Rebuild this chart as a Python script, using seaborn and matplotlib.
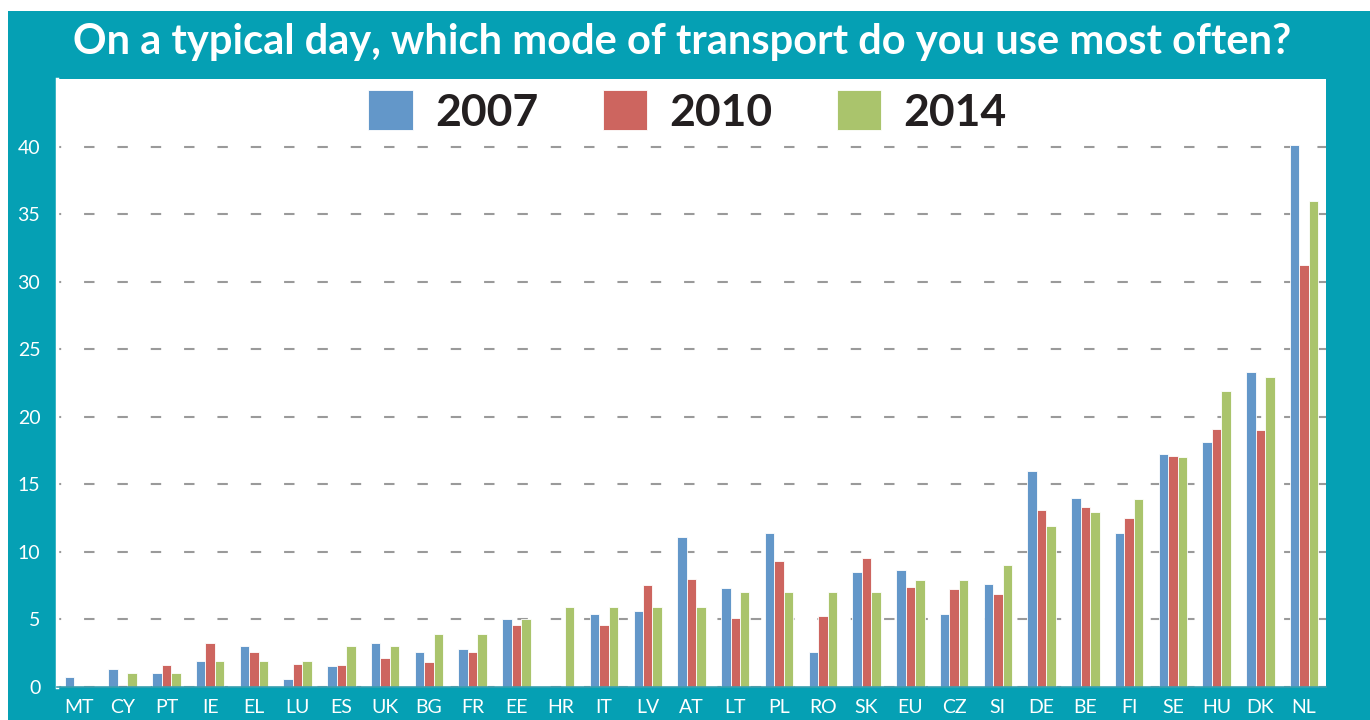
import numpy as np
import pandas as pd
import seaborn as sns
import matplotlib.pyplot as plt
from matplotlib.patches import Rectangle
from matplotlib.ticker import FixedLocator

countries = ['MT', 'CY', 'PT', 'IE', 'EL', 'LU', 'ES', 'UK', 'BG', 'FR', 'EE', 'HR', 'IT', 'LV', 'AT',
             'LT', 'PL', 'RO', 'SK', 'EU', 'CZ', 'SI', 'DE', 'BE', 'FI', 'SE', 'HU', 'DK', 'NL']
years = ['2007', '2010', '2014']
v2007 = [0.7, 1.3, 1.0, 1.9, 3.0, 0.55, 1.5, 3.2, 2.55, 2.8, 5.0, 0, 5.4, 5.6, 11.1,
         7.3, 11.4, 2.55, 8.5, 8.65, 5.4, 7.6, 16.0, 14.0, 11.4, 17.2, 18.1, 23.3, 40.1]
v2010 = [0, 0.1, 1.6, 3.2, 2.6, 1.7, 1.6, 2.1, 1.8, 2.55, 4.6, 0, 4.6, 7.5, 7.95,
         5.1, 9.3, 5.2, 9.5, 7.4, 7.2, 6.85, 13.1, 13.3, 12.5, 17.1, 19.1, 19.0, 31.2]
v2014 = [0, 1.0, 1.0, 1.9, 1.9, 1.9, 3.0, 3.0, 3.9, 3.9, 5.0, 5.9, 5.9, 5.9, 5.9,
         7.0, 7.0, 7.0, 7.0, 7.9, 7.9, 9.0, 11.9, 12.95, 13.9, 17.0, 21.9, 22.9, 36.0]
yticks = [0, 5, 10, 15, 20, 25, 30, 35, 40]
title = 'On a typical day, which mode of transport do you use most often?'

teal = '#05A0B4'
palette = {'2007': '#6397C9', '2010': '#CD655F', '2014': '#AAC46C'}

df = pd.DataFrame({'country': countries * 3,
                   'year': np.repeat(years, len(countries)),
                   'value': v2007 + v2010 + v2014})

sns.set_style('white')
plt.rcParams['font.family'] = ['Lato', 'DejaVu Sans']

fig = plt.figure(figsize=(13.7, 7.2), dpi=100, facecolor='white')
fig.patches.append(Rectangle((8 / 1370, 0), 1, (720 - 11) / 720, transform=fig.transFigure,
                             facecolor=teal, edgecolor='none', zorder=-10))
ax = fig.add_axes([57 / 1370, (720 - 686.7) / 720, (1326 - 57) / 1370, (686.7 - 79) / 720])
ax.set_facecolor('white')

sns.barplot(data=df, x='country', y='value', hue='year', order=countries, hue_order=years,
            palette=palette, width=0.65, gap=0, saturation=1, edgecolor='white',
            linewidth=0.6, ax=ax)

ax.set_xlim(-0.5, len(countries) - 0.5)
ax.set_ylim(0, 45)
ax.set_yticks(yticks)
ax.set_xlabel('')
ax.set_ylabel('')
ax.set_axisbelow(True)
ax.yaxis.grid(True, color='#9a9a9a', linewidth=1.5, linestyle=(3, (5, 11)))
ax.xaxis.grid(False)

ax.tick_params(axis='y', colors='#9a9a9a', length=4, width=1.5, direction='out',
               labelcolor='white', labelsize=14, pad=8)
ax.tick_params(axis='x', which='major', length=0, labelcolor='white', labelsize=14, pad=9)
ax.xaxis.set_minor_locator(FixedLocator(np.arange(-0.5, len(countries), 1.0)))
ax.tick_params(axis='x', which='minor', colors='#9a9a9a', length=4, width=1.5, direction='out')

for side in ['top', 'right']:
    ax.spines[side].set_visible(False)
ax.spines['left'].set_color('white')
ax.spines['left'].set_linewidth(2.5)
ax.spines['bottom'].set_color('#3a9fb0')
ax.spines['bottom'].set_linewidth(1.2)

handles, labels = ax.get_legend_handles_labels()
ax.legend(handles, labels, ncol=3, loc='upper center', bbox_to_anchor=(0.497, 1.025),
          frameon=False, prop={'family': ['Lato', 'DejaVu Sans'], 'weight': 'bold', 'size': 32},
          labelcolor='#231F20', handlelength=1.0, handleheight=1.0, handletextpad=0.5,
          columnspacing=1.45, borderaxespad=0.2)

fig.text(682 / 1370, 1 - 42 / 720, title, color='white', fontsize=30, fontweight='bold',
         ha='center', va='center')

fig.savefig('out.png', dpi=100, facecolor='white')
